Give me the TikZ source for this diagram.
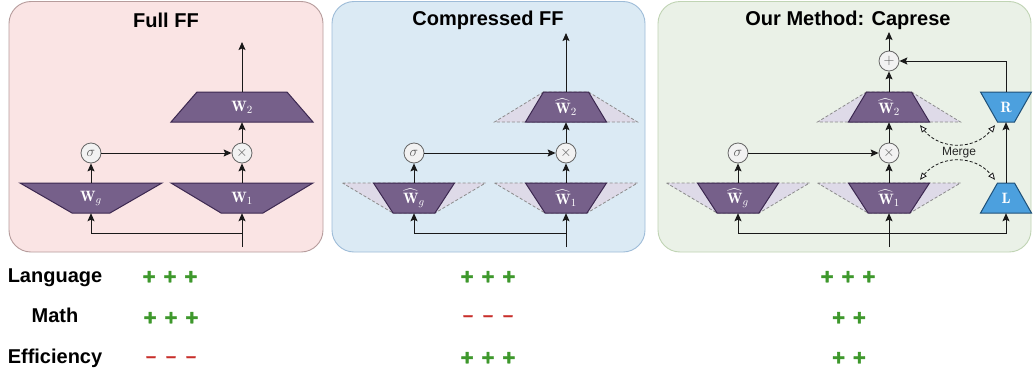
\documentclass[tikz,border=0pt]{standalone}
\usepackage{fontspec}
\usepackage{amsmath}
\newfontfamily\hv{Liberation Sans}
\newfontfamily\markfont{Liberation Sans Bold}[FakeBold=2]
\usetikzlibrary{arrows.meta,calc}

\definecolor{pinkfill}{RGB}{250,228,228}
\definecolor{pinkline}{RGB}{182,156,156}
\definecolor{bluefill}{RGB}{219,234,244}
\definecolor{blueline}{RGB}{158,188,216}
\definecolor{greenfill}{RGB}{234,241,231}
\definecolor{greenline}{RGB}{192,212,180}
\definecolor{wpurple}{RGB}{118,96,138}
\definecolor{wpurpledark}{RGB}{60,40,80}
\definecolor{ghostfill}{RGB}{222,218,232}
\definecolor{lrblue}{RGB}{76,160,222}
\definecolor{lrbluedark}{RGB}{30,80,120}
\definecolor{goodgreen}{RGB}{62,152,44}
\definecolor{badred}{RGB}{200,46,42}
\definecolor{inkline}{RGB}{25,25,25}

% trapezoid: style, centre x, centre y, top half-width, bottom half-width (height 30)
\newcommand{\trap}[5]{\draw[#1] ({#2-#4},{#3-15}) -- ({#2+#4},{#3-15}) -- ({#2+#5},{#3+15}) -- ({#2-#5},{#3+15}) -- cycle;}

\begin{document}
\begin{tikzpicture}[x=1pt,y=-1pt,
  panel/.style={rounded corners=22pt, line width=0.9pt},
  title/.style={font=\hv\bfseries\fontsize{20}{24}\selectfont, text=black},
  rowlbl/.style={font=\hv\bfseries\fontsize{20}{24}\selectfont, anchor=base},
  good/.style={font=\markfont\fontsize{22}{24}\selectfont, text=goodgreen, anchor=base},
  bad/.style={font=\markfont\fontsize{18}{20}\selectfont, text=badred, anchor=base},
  arr/.style={draw=inkline, line width=1pt, -{Stealth[length=8pt,width=7pt,inset=1.5pt]}},
  wlbl/.style={inner sep=0pt, minimum height=30pt, minimum width=30pt, text=white, font=\fontsize{15}{17}\selectfont},
  opc/.style={circle, draw=black!60, fill=black!5, minimum size=20pt, inner sep=0pt, line width=0.8pt, text=black!65, font=\fontsize{14}{16}\selectfont},
  wfill/.style={fill=wpurple, draw=wpurpledark, line width=1pt},
  ghost/.style={fill=ghostfill, draw=black!45, dashed, dash pattern=on 3pt off 2pt, line width=0.8pt},
  lrfill/.style={fill=lrblue, draw=lrbluedark, line width=1pt},
  merge/.style={draw=inkline, line width=0.8pt, dash pattern=on 3pt off 2pt,
    {Triangle[length=7pt,width=6pt,fill=white,line width=0.8pt]}-{Triangle[length=7pt,width=6pt,fill=white,line width=0.8pt]}}
]
\useasboundingbox (0,0) rectangle (1033,372);
\fill[white] (0,0) rectangle (1033,372);

% panels
\draw[panel, fill=pinkfill, draw=pinkline] (9,1.5) rectangle (323,252);
\draw[panel, fill=bluefill, draw=blueline] (332,1.5) rectangle (645,252);
\draw[panel, fill=greenfill, draw=greenline] (658,1.5) rectangle (1031,252);

\node[title] (t1) at (166,20) {Full FF};
\node[title] (t2) at (488,20) {Compressed FF};
\node[title] (t3) at (848,20) {Our Method: Caprese};

% ---------------- Full FF ----------------
\trap{wfill}{91}{198}{71}{19}
\trap{wfill}{242}{198}{71}{21}
\trap{wfill}{242}{107}{45}{71}
\node[wlbl] (wg1) at (91,198) {$\mathbf{W}_g$};
\node[wlbl] (w11) at (242,198) {$\mathbf{W}_1$};
\node[wlbl] (w21) at (242,107) {$\mathbf{W}_2$};
\node[opc] (s1) at (91,153) {$\sigma$};
\node[opc] (m1) at (242,153) {$\times$};
\coordinate (o1) at (242,42);
\coordinate (i1) at (242,247);
\coordinate (j1) at (242,233);
\draw[arr] (w21.north) -- (o1);
\draw[arr] (m1) -- (w21.south);
\draw[arr] (w11.north) -- (m1);
\draw[arr] (wg1.north) -- (s1);
\draw[arr] (s1) -- (m1);
\draw[arr] (i1) -- (w11.south);
\draw[arr] (j1) -| (wg1.south);

% ---------------- Compressed FF ----------------
\trap{ghost}{414}{198}{71.5}{21}
\trap{wfill}{414}{198}{40.5}{21}
\trap{ghost}{566}{198}{71.5}{21}
\trap{wfill}{566}{198}{40.5}{21}
\trap{ghost}{566}{107}{22.5}{71.5}
\trap{wfill}{566}{107}{22.5}{40.5}
\node[wlbl] (wg2) at (414,198) {$\widehat{\mathbf{W}}_g$};
\node[wlbl] (w12) at (566,198) {$\widehat{\mathbf{W}}_1$};
\node[wlbl] (w22) at (566,107) {$\widehat{\mathbf{W}}_2$};
\node[opc] (s2) at (414,153) {$\sigma$};
\node[opc] (m2) at (566,153) {$\times$};
\coordinate (o2) at (566,33);
\coordinate (i2) at (566,247);
\coordinate (j2) at (566,233);
\draw[arr] (w22.north) -- (o2);
\draw[arr] (m2) -- (w22.south);
\draw[arr] (w12.north) -- (m2);
\draw[arr] (wg2.north) -- (s2);
\draw[arr] (s2) -- (m2);
\draw[arr] (i2) -- (w12.south);
\draw[arr] (j2) -| (wg2.south);

% ---------------- Caprese ----------------
\trap{ghost}{738}{198}{71.5}{21}
\trap{wfill}{738}{198}{40.5}{21}
\trap{ghost}{889}{198}{71.5}{21}
\trap{wfill}{889}{198}{40.5}{21}
\trap{ghost}{889}{107}{22.5}{71.5}
\trap{wfill}{889}{107}{22.5}{40.5}
\trap{lrfill}{1006}{107}{25.5}{8.5}
\trap{lrfill}{1006}{198}{8.5}{25.5}
\node[wlbl] (wg3) at (738,198) {$\widehat{\mathbf{W}}_g$};
\node[wlbl] (w13) at (889,198) {$\widehat{\mathbf{W}}_1$};
\node[wlbl] (w23) at (889,107) {$\widehat{\mathbf{W}}_2$};
\node[wlbl, minimum width=16pt] (rr) at (1006,107) {$\mathbf{R}$};
\node[wlbl, minimum width=16pt] (ll) at (1006,198) {$\mathbf{L}$};
\node[opc] (s3) at (738,153) {$\sigma$};
\node[opc] (m3) at (889,153) {$\times$};
\node[opc] (p3) at (889,61) {$+$};
\coordinate (o3) at (889,32);
\coordinate (i3) at (889,247);
\coordinate (j3) at (889,233);
\draw[arr] (p3) -- (o3);
\draw[arr] (w23.north) -- (p3);
\draw[arr] (m3) -- (w23.south);
\draw[arr] (w13.north) -- (m3);
\draw[arr] (wg3.north) -- (s3);
\draw[arr] (s3) -- (m3);
\draw[arr] (i3) -- (w13.south);
\draw[arr] (j3) -| (wg3.south);
\draw[arr] (j3) -| (ll.south);
\draw[arr] (ll.north) -- (rr.south);
\draw[arr] (rr.north) |- (p3.east);

\node[font=\hv\fontsize{12}{14}\selectfont, text=black!85] (mg) at (959,153) {Merge};
\draw[merge] ($(w23.south)+(31,3)$) .. controls +(20,25) and +(-20,25) .. ($(rr.south)+(-11,3)$);
\draw[merge] ($(w13.north)+(31,-3)$) .. controls +(20,-25) and +(-20,-25) .. ($(ll.north)+(-11,-3)$);

% ---------------- comparison rows ----------------
\node[rowlbl] (lang) at (55,282) {Language};
\node[rowlbl] (math) at (55,322) {Math};
\node[rowlbl] (eff) at (55,363) {Efficiency};

\node[good] (a1) at (170,284) {+\hspace{8pt}+\hspace{8pt}+};
\node[good] (a2) at (171,325) {+\hspace{8pt}+\hspace{8pt}+};
\node[bad]  (a3) at (171,362) {–\hspace{10pt}–\hspace{10pt}–};

\node[good] (b1) at (488,284) {+\hspace{8pt}+\hspace{8pt}+};
\node[bad]  (b2) at (488,321) {–\hspace{10pt}–\hspace{10pt}–};
\node[good] (b3) at (488,365) {+\hspace{8pt}+\hspace{8pt}+};

\node[good] (c1) at (848,284) {+\hspace{8pt}+\hspace{8pt}+};
\node[good] (c2) at (849,325) {+\hspace{8pt}+};
\node[good] (c3) at (849,365) {+\hspace{8pt}+};
\end{tikzpicture}
\end{document}
